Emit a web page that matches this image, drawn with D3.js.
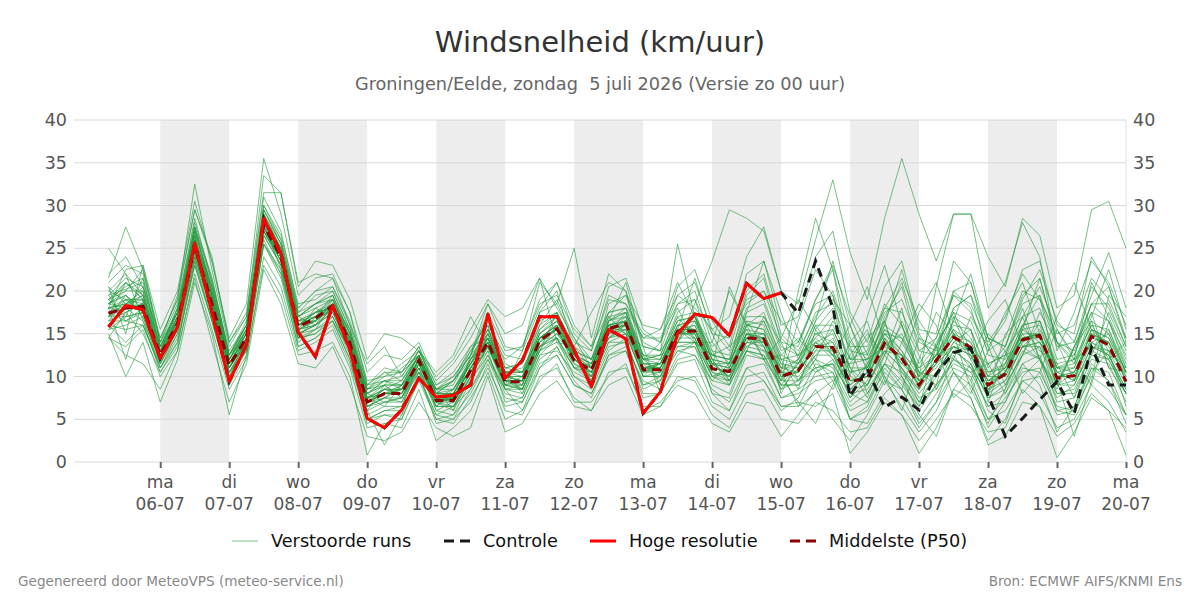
<!DOCTYPE html>
<html><head><meta charset="utf-8">
<script src="https://cdn.jsdelivr.net/npm/d3@7"></script>
<style>body{margin:0;background:#fff}svg{display:block;font-family:"DejaVu Sans",sans-serif}</style>
</head><body><svg id="c" width="1200" height="600"></svg>
<script>
// ---- data ----
const startTime = "2026-07-05T06:00:00Z"; // first forecast step, 6-hourly
const stepHours = 6;
const dayNames = ["ma","di","wo","do","vr","za","zo","ma","di","wo","do","vr","za","zo","ma"];
const dayDates = ["06-07","07-07","08-07","09-07","10-07","11-07","12-07","13-07","14-07","15-07","16-07","17-07","18-07","19-07","20-07"];
const shadedDays = ["06-07","08-07","10-07","12-07","14-07","16-07","18-07"];
const yTicks = [0,5,10,15,20,25,30,35,40];

const hres = [15.8,18.3,17.8,12.1,15.8,25.6,17.5,9.4,13.7,28.5,24.4,15.2,12.3,18.3,13.1,5.1,4.0,6.1,9.8,7.6,7.8,9.0,17.3,9.8,11.9,17.0,17.0,13.1,8.8,15.5,14.4,5.7,8.2,15.0,17.3,16.9,14.8,20.9,19.1,19.8];
const controle = [15.8,18.3,17.8,12.1,15.8,25.6,17.5,9.4,13.7,28.5,24.4,15.2,12.3,18.3,13.1,5.1,4.0,6.1,9.8,7.6,7.8,9.0,17.3,9.8,11.9,17.0,17.0,13.1,8.8,15.5,14.4,5.7,8.2,15.0,17.3,16.9,14.8,20.9,19.1,19.8,
 17.4,23.5,18.1,7.7,10.9,6.4,7.6,6.1,10.3,12.8,13.3,7.8,3.0,5.1,7.3,9.4,5.7,13.4,9.0,9.0];
const p50 = [17.4,18.0,18.2,12.5,16.2,25.2,18.5,11.3,14.5,27.7,
 24.0,15.8,16.8,18.3,13.9,7.0,8.0,8.0,11.9,7.2,
 7.2,10.7,14.0,9.4,9.4,14.2,15.6,11.9,10.7,15.6,
 16.2,10.8,10.8,15.3,15.3,10.9,10.6,14.5,14.4,10.0,
 10.7,13.5,13.4,9.4,9.8,13.9,12.1,9.0,11.9,14.6,
 13.4,9.0,10.3,14.3,14.8,9.8,10.1,14.7,13.7,9.4];

const members = [
[19.5,20.2,21.0,13.5,17.0,27.5,20.0,12.5,15.0,29.5,25.5,17.0,18.5,19.5,15.0,8.5,9.0,7.5,12.0,6.5,8.0,11.5,15.5,10.5,8.0,13.0,17.5,13.0,9.5,16.5,18.0,12.5,9.0,14.0,17.5,12.0,9.0,16.0,17.5,12.0,8.5,15.5,18.0,11.0,7.5,12.5,16.0,10.5,9.0,17.0,15.5,7.0,12.5,18.0,12.0,8.5,13.5,17.5,11.0,8.0],
[15.5,16.0,17.0,11.0,14.5,23.5,17.0,10.0,13.5,26.0,22.0,14.5,15.0,17.0,12.5,5.5,6.5,9.0,10.5,8.5,6.0,12.5,18.5,15.0,16.0,21.5,14.0,13.5,17.5,21.0,20.0,14.0,13.0,25.5,17.0,11.0,20.5,16.0,15.5,8.0,12.0,10.5,12.0,7.5,11.5,16.5,10.0,6.5,13.5,12.0,10.5,11.5,8.0,12.5,16.5,11.5,7.5,13.0,15.5,11.0],
[22.0,24.0,20.5,14.5,19.0,32.5,22.5,13.5,17.0,31.0,27.0,18.0,20.0,21.5,16.0,9.0,11.0,10.5,13.5,8.0,9.5,12.5,17.0,11.5,10.5,16.0,19.0,14.5,11.0,18.5,19.5,13.5,13.0,18.5,20.0,14.0,11.5,19.5,21.5,14.0,13.5,19.0,22.5,14.5,11.0,17.0,20.5,13.0,12.5,20.0,18.0,11.0,13.5,19.5,21.5,14.0,12.0,21.0,17.0,12.0],
[14.5,13.5,15.5,10.0,13.0,22.0,15.5,8.5,12.0,24.0,20.5,13.0,14.0,15.5,11.0,4.0,4.5,5.0,9.5,5.0,4.5,7.5,11.0,6.5,7.0,11.5,12.5,9.0,8.0,12.0,13.0,7.5,8.0,11.5,12.0,7.0,6.0,10.0,10.5,6.5,6.5,8.0,9.5,5.0,6.0,10.0,7.5,4.0,7.0,10.5,9.0,5.0,6.0,9.5,10.0,5.5,6.0,10.0,8.5,5.5],
[18.5,21.0,19.0,12.0,16.5,26.0,19.5,11.0,15.5,28.0,25.0,16.0,17.5,18.0,14.5,7.5,8.5,9.5,12.5,7.0,7.5,11.0,14.0,9.0,9.5,14.5,16.0,11.0,10.5,15.0,17.0,10.5,11.5,15.5,14.5,10.0,11.0,15.0,13.5,9.5,11.5,14.5,12.5,8.5,10.5,15.5,13.0,8.5,12.0,15.5,12.5,9.5,11.0,15.5,14.0,10.5,9.5,15.5,14.5,10.0],
[16.5,17.5,18.5,13.0,17.5,24.5,18.0,12.0,14.0,27.0,23.5,15.5,16.5,18.5,14.0,6.5,7.5,7.0,11.5,7.5,7.0,10.0,13.5,9.5,8.5,13.5,15.0,12.5,10.0,16.0,16.5,11.0,10.0,15.0,16.0,11.5,10.0,13.5,14.5,10.5,10.0,12.5,14.5,10.0,9.0,13.0,12.5,9.5,11.0,14.0,13.0,8.5,10.5,14.0,15.0,9.0,10.5,14.0,13.0,9.0],
[20.5,15.0,23.0,15.5,20.0,30.5,23.5,14.5,18.5,35.5,29.0,19.5,21.5,22.0,17.5,10.5,12.5,12.0,14.0,9.5,11.5,14.5,18.5,13.5,13.0,18.0,21.0,16.0,13.5,20.5,21.5,15.5,14.0,20.5,22.5,16.5,13.5,22.0,23.5,16.0,17.0,24.0,27.0,17.5,14.0,20.5,23.5,15.5,15.0,23.5,21.0,13.5,16.5,22.5,23.5,16.0,15.0,24.0,20.5,14.5],
[17.0,19.5,17.5,11.5,15.5,25.5,18.5,10.5,13.0,27.5,24.0,15.0,16.0,17.5,13.0,5.0,6.0,6.5,11.0,6.0,5.5,9.5,13.0,7.0,7.5,12.5,14.5,10.0,8.5,13.0,14.5,8.5,9.5,13.5,13.5,8.0,7.5,12.5,12.0,7.5,8.5,10.0,10.5,6.5,8.0,11.5,9.5,6.0,9.0,12.0,11.0,6.5,8.0,11.5,12.5,7.0,7.5,12.0,11.5,7.0],
[18.0,18.5,20.0,12.5,16.0,25.0,18.0,11.5,14.5,27.0,24.5,16.5,17.0,19.0,14.5,8.0,9.5,8.5,12.0,7.5,8.5,12.0,14.5,10.0,10.0,15.0,16.5,12.5,11.5,16.5,17.0,11.5,11.5,16.0,16.5,11.5,11.5,16.5,16.0,11.0,12.0,15.0,14.0,10.5,11.0,15.0,14.5,10.0,12.5,16.5,14.5,10.0,11.5,16.0,16.5,11.0,11.0,16.5,15.0,10.5],
[25.0,22.0,16.5,10.5,14.0,23.0,16.5,9.5,13.5,25.5,22.5,14.0,15.5,16.5,12.0,4.5,5.5,5.5,10.0,5.5,6.5,8.5,12.0,8.5,6.0,11.0,13.5,9.5,7.5,12.5,13.5,9.5,8.5,12.5,14.0,9.0,8.0,13.0,12.5,8.5,9.5,11.0,11.5,8.0,7.0,11.5,10.5,7.5,8.5,13.0,11.5,7.5,9.0,12.5,13.5,8.0,8.5,12.5,12.0,8.0],
[19.0,17.0,21.5,13.0,18.0,28.5,21.0,13.0,16.0,30.0,26.5,18.5,19.0,20.5,16.5,9.5,10.0,11.5,13.0,9.0,10.5,13.5,16.0,12.5,12.0,17.5,18.5,14.0,13.0,19.0,18.5,14.5,15.5,19.5,18.0,15.5,17.0,24.0,27.5,20.0,18.5,26.0,33.0,24.5,19.0,28.5,35.5,29.0,23.5,29.0,29.0,24.0,20.5,28.5,26.5,18.0,19.5,29.5,30.5,25.0],
[16.0,14.0,16.0,11.0,15.0,24.0,17.5,10.5,13.0,26.5,23.0,14.5,15.5,17.0,13.0,6.0,2.0,5.5,10.5,4.5,5.0,7.0,11.5,6.0,5.5,10.0,11.0,7.5,6.0,10.5,11.0,6.5,6.5,10.0,9.5,5.5,4.0,8.0,8.5,5.0,4.5,7.0,6.0,3.5,4.0,7.5,5.5,2.5,5.0,8.0,6.5,3.5,4.0,8.5,6.5,3.0,4.5,8.0,6.0,4.0],
[21.0,23.0,22.0,14.0,18.5,28.0,21.5,12.5,16.5,30.0,26.0,17.5,19.5,20.0,15.5,9.0,10.5,9.5,12.5,8.5,9.0,13.0,16.5,11.0,11.5,16.5,17.5,13.5,12.0,17.5,18.0,12.5,12.5,17.5,19.0,13.0,12.5,18.0,19.0,13.5,12.5,14.5,17.0,12.0,13.0,18.5,16.0,11.5,14.5,19.5,17.5,13.0,14.5,20.0,19.0,13.5,14.0,20.5,18.0,13.5],
[17.5,16.5,18.0,12.0,16.0,25.5,19.0,11.0,14.0,28.0,24.5,16.0,17.5,18.0,14.0,7.0,8.5,8.0,11.0,7.0,7.5,11.0,13.5,9.5,9.0,14.5,15.5,12.0,11.0,15.5,15.5,11.0,11.0,14.0,18.5,23.5,29.5,28.5,27.0,20.0,15.5,11.0,8.5,12.5,15.5,9.5,8.5,14.5,13.5,7.5,9.5,15.0,13.0,8.0,10.5,15.5,12.0,9.0,16.5,12.5],
[18.5,19.5,17.0,12.0,17.0,26.5,19.5,12.0,15.0,28.5,24.5,16.5,16.5,18.5,14.5,7.5,8.0,8.5,12.0,8.0,8.0,11.5,14.5,10.0,9.5,14.0,16.5,12.0,11.0,15.5,16.5,10.5,11.5,15.5,15.5,11.5,10.0,15.0,14.0,11.0,10.5,14.0,13.0,9.0,10.5,14.5,11.5,9.5,11.5,14.5,13.0,9.5,10.0,14.5,14.5,10.0,10.5,15.0,14.0,9.5],
[15.0,10.0,14.0,7.0,12.0,21.0,15.0,5.5,12.5,23.0,19.5,12.5,13.0,14.0,10.0,0.8,4.5,4.0,8.5,2.5,4.0,6.0,10.5,5.0,6.0,9.5,11.5,7.0,7.0,10.0,11.5,6.0,7.0,9.5,10.0,6.5,5.0,9.0,9.5,6.5,7.0,6.5,8.0,1.0,3.5,7.0,5.5,1.0,4.0,8.5,7.5,2.0,3.0,7.0,6.5,0.5,3.5,7.5,6.0,0.8],
[19.0,20.5,21.5,13.5,17.5,27.0,20.5,12.0,16.0,29.0,25.5,17.5,18.5,20.0,15.5,8.5,10.0,10.5,13.5,9.0,10.0,13.0,15.5,12.0,13.5,19.0,21.0,15.0,13.0,19.5,18.5,15.0,14.0,19.5,21.0,15.5,13.0,20.0,22.0,15.0,13.0,17.0,20.0,14.0,12.0,16.5,21.0,14.5,12.0,18.0,19.5,12.5,12.0,17.0,20.5,15.5,12.5,18.5,20.5,14.0],
[14.5,17.5,15.0,10.5,13.5,23.5,16.5,9.0,12.5,25.5,21.5,13.5,14.5,16.0,11.5,5.0,6.0,6.0,10.0,5.5,5.0,8.5,12.5,8.0,7.5,12.0,13.5,10.0,9.0,13.5,14.0,9.0,9.5,13.0,13.5,9.5,9.0,13.0,12.0,9.0,9.0,12.0,11.0,7.0,9.0,12.5,10.0,7.0,10.0,13.0,11.5,7.5,8.5,13.0,12.0,8.0,8.0,13.0,12.0,8.0],
[17.0,18.0,19.5,12.5,17.0,26.0,19.0,11.5,15.0,28.5,24.0,15.5,16.0,19.0,14.5,6.5,7.5,9.0,12.5,8.0,7.0,10.5,14.5,10.5,10.5,13.5,15.0,12.5,10.5,14.5,16.0,12.0,12.5,13.5,14.0,12.5,13.5,15.5,12.0,12.5,14.5,12.0,9.5,11.5,14.5,16.5,10.5,8.5,14.0,17.0,12.0,8.0,15.0,17.0,12.0,9.0,13.5,16.5,11.0,10.5],
[18.0,18.5,18.0,12.5,16.5,25.0,18.0,11.0,14.5,27.5,23.5,16.0,17.0,18.0,14.0,7.0,8.0,8.0,12.0,7.5,7.5,11.0,14.0,9.5,9.5,14.0,15.5,12.0,10.5,15.5,16.0,11.0,11.0,15.0,15.0,11.0,10.5,14.5,14.5,10.0,10.5,13.5,13.5,9.5,10.0,14.0,12.0,9.0,12.0,14.5,13.5,9.0,10.5,14.5,15.0,10.0,10.0,14.5,14.0,9.5],
[16.5,19.0,17.5,11.5,15.5,24.5,17.5,10.5,14.0,27.0,23.0,15.0,16.0,17.5,13.5,6.0,7.0,7.5,11.0,6.5,6.5,10.0,13.5,9.0,8.5,13.5,14.5,11.5,10.0,14.5,15.5,10.0,10.5,14.5,14.5,10.5,9.5,14.0,13.5,9.5,16.5,22.5,19.5,10.0,17.0,23.0,16.0,10.0,20.5,29.0,29.0,18.0,21.0,28.0,24.0,13.0,17.5,23.5,21.0,16.0],
[19.5,21.5,20.5,13.5,17.5,27.0,20.0,12.0,15.5,29.0,25.0,17.0,18.0,19.0,15.0,8.0,9.0,9.0,12.5,8.0,8.5,11.5,15.0,10.5,10.0,15.0,16.5,12.5,11.5,16.0,17.0,12.0,11.5,16.0,16.5,12.0,11.5,16.0,15.5,11.5,11.0,14.0,15.0,10.5,11.0,15.0,13.0,10.0,12.5,15.5,14.0,10.5,11.0,15.5,16.0,10.5,11.0,15.5,14.5,10.5],
[16.0,15.5,16.0,11.0,14.0,23.0,16.5,9.5,13.0,25.5,22.0,13.5,14.5,16.5,12.0,5.0,5.5,5.0,10.0,5.0,5.5,8.0,12.0,7.5,7.0,11.0,12.5,9.0,8.0,12.5,13.0,8.0,8.0,12.0,12.5,8.5,7.0,11.0,11.5,7.5,8.0,9.5,10.0,6.0,7.0,10.5,8.5,5.0,8.0,11.0,10.0,5.0,7.5,10.5,11.0,6.0,6.5,11.0,10.5,5.5],
[20.0,22.0,19.5,13.5,18.0,27.5,21.0,12.5,16.0,29.5,25.5,17.0,18.5,19.5,15.0,8.0,9.5,9.5,13.0,8.5,9.5,12.5,15.0,11.0,11.5,16.0,17.5,13.5,11.0,16.5,17.5,12.0,12.0,16.5,17.0,12.5,12.0,17.0,17.0,12.5,11.5,16.0,16.0,12.0,12.0,16.0,14.5,11.0,13.5,17.5,16.5,11.5,12.5,17.0,18.0,12.0,12.5,17.5,16.5,11.5],
[17.5,18.0,18.5,12.0,16.0,25.0,18.5,11.0,14.0,27.0,24.0,15.5,16.5,18.0,13.5,7.0,8.0,8.0,11.5,7.0,7.0,10.5,13.5,9.0,9.0,14.0,15.5,11.5,10.5,15.0,15.5,10.5,10.5,15.0,15.0,10.5,10.0,14.0,14.0,10.0,7.0,4.5,9.0,14.0,16.5,10.0,6.0,12.0,17.5,15.0,8.5,4.5,8.5,16.0,19.5,9.5,3.0,9.5,19.5,17.0],
[18.0,19.0,19.0,13.0,16.5,26.5,19.5,12.0,15.0,28.5,24.5,16.0,17.0,18.5,14.5,7.5,8.5,8.5,12.0,7.5,7.5,11.0,14.0,9.5,9.5,14.5,16.0,12.0,11.0,16.0,16.5,11.0,11.0,15.5,15.5,11.0,10.5,15.0,15.0,10.5,10.5,13.5,14.0,9.5,10.0,14.5,12.5,9.0,12.0,15.0,14.0,9.5,10.5,15.0,15.0,10.0,10.5,15.0,14.0,9.5],
[18.5,20.0,20.0,13.0,17.0,26.0,19.5,12.0,15.5,28.5,25.0,16.5,17.5,19.0,14.5,8.0,9.0,9.0,12.5,8.0,8.0,12.0,15.0,10.5,10.5,15.0,17.0,13.0,12.0,17.0,17.5,12.0,12.5,17.0,17.5,12.5,12.0,17.5,18.5,13.0,14.0,18.5,19.5,13.5,13.5,18.0,17.5,13.0,14.5,20.0,21.0,14.5,13.5,19.0,22.5,16.5,14.0,19.5,24.5,18.0],
[17.0,17.0,17.5,12.0,15.5,24.5,18.0,10.5,14.0,27.0,23.5,15.5,16.0,17.5,13.5,6.5,7.5,7.5,11.5,7.0,6.5,10.0,13.5,9.0,8.5,13.5,14.5,11.0,10.0,14.5,15.0,10.0,10.0,14.0,14.0,10.0,9.0,13.0,12.5,9.0,9.0,11.0,11.5,8.0,8.5,11.5,9.0,6.5,9.0,11.5,10.5,6.5,7.0,11.0,10.5,6.5,6.0,11.0,9.5,5.5],
[19.0,21.0,19.5,12.5,17.0,26.5,19.0,11.5,15.0,28.0,24.5,16.0,17.5,18.5,14.0,7.5,8.0,8.5,12.0,7.5,8.0,11.5,14.5,10.0,9.5,14.5,16.0,12.0,11.0,15.5,16.5,11.5,11.5,15.5,16.0,11.5,11.0,15.5,15.0,11.0,11.0,13.0,13.0,8.5,10.5,13.0,11.0,8.5,11.5,13.5,12.5,8.5,9.5,13.5,13.5,9.0,9.5,14.0,12.5,8.5],
[18.0,12.0,19.0,12.5,16.5,25.5,18.5,11.0,14.5,27.5,24.0,16.0,16.5,18.0,14.0,7.0,8.0,8.0,12.0,7.0,7.5,11.0,14.0,9.5,9.5,14.5,15.5,12.0,10.5,15.0,16.0,10.5,11.0,15.0,15.0,11.0,10.5,15.0,14.5,10.5,20.0,28.5,22.5,12.0,15.0,12.5,18.0,9.5,13.5,17.5,13.0,10.0,13.0,16.0,13.0,11.5,12.0,16.0,13.0,11.0],
[21.5,27.5,22.5,14.0,19.5,29.5,24.0,14.0,17.5,31.5,31.5,20.5,23.5,23.0,19.0,12.0,15.0,14.5,13.0,10.0,12.0,15.5,19.0,17.0,18.0,21.5,18.0,14.5,12.0,17.5,19.5,16.0,15.5,21.0,17.0,13.5,15.0,18.5,20.0,16.5,14.0,19.0,23.0,17.0,12.5,18.0,21.5,16.5,13.5,19.5,18.5,14.0,17.0,22.0,19.0,15.0,16.0,21.5,19.0,14.5],
[14.5,12.5,11.5,8.5,13.0,21.5,14.0,7.0,11.5,22.5,18.5,11.5,11.0,13.5,9.0,3.0,2.5,3.5,7.0,4.0,3.0,4.0,10.0,3.5,4.5,8.0,9.5,6.5,6.0,9.0,10.0,5.5,6.5,9.0,8.0,4.5,3.5,7.0,6.5,3.0,5.5,8.5,5.0,2.5,5.5,9.5,6.5,3.5,6.0,10.5,7.5,2.5,5.0,9.5,8.0,4.0,5.0,9.0,7.0,3.5],
[18.0,22.5,23.0,14.0,17.5,27.5,21.5,12.5,15.5,29.5,26.0,18.0,20.0,20.5,16.0,11.5,13.5,10.0,13.0,10.5,12.5,17.0,13.5,9.0,13.0,21.0,18.5,25.0,14.5,22.0,20.0,12.0,14.0,18.0,14.0,14.0,20.0,16.0,12.0,14.5,19.0,15.5,12.5,16.0,20.5,14.0,11.5,17.5,21.0,15.0,12.0,16.5,19.0,13.5,12.0,17.0,21.0,15.5,12.0,14.0],
[16.0,18.0,16.5,12.0,15.5,24.0,18.0,11.5,15.0,26.5,24.5,17.0,16.0,18.0,13.0,6.0,9.0,11.0,12.5,6.0,7.0,12.0,16.0,8.5,8.0,12.5,13.0,10.5,9.5,14.0,14.0,9.0,10.0,13.0,12.5,9.5,11.5,16.5,13.5,8.5,11.0,16.0,13.0,7.5,9.5,14.5,11.0,7.0,10.5,13.5,11.0,8.0,11.5,15.0,12.0,7.5,9.0,13.5,12.5,8.0],
[20.0,19.0,18.5,12.5,16.5,26.0,20.5,12.5,16.0,29.0,24.0,15.0,15.5,18.5,15.5,8.0,7.0,7.5,11.0,8.5,9.5,13.5,14.5,9.0,10.0,15.5,17.5,13.0,9.5,15.0,17.5,11.5,9.5,14.5,17.0,12.0,9.5,14.0,16.5,11.5,9.5,13.0,15.5,11.0,9.0,13.5,15.0,10.5,10.0,14.0,15.5,10.0,10.0,13.5,15.5,11.0,10.5,14.0,15.0,10.5],
[17.0,21.0,19.0,12.0,16.0,27.5,19.5,11.0,14.0,28.0,22.5,14.5,17.0,19.5,14.0,7.5,9.0,7.5,10.5,6.5,8.5,11.5,13.5,8.5,9.0,17.5,20.0,13.0,9.0,16.5,21.0,13.5,8.0,15.5,21.5,15.0,11.0,17.5,23.5,17.5,12.0,16.5,23.5,16.0,10.5,16.0,22.5,15.0,11.5,16.5,22.0,14.5,10.5,15.5,21.5,14.0,11.5,17.0,22.5,15.5],
[19.5,16.5,17.5,13.0,18.0,25.5,17.0,10.0,14.5,27.5,23.5,16.5,17.5,18.0,13.5,7.0,7.5,8.5,12.5,8.0,8.0,10.5,13.0,10.5,10.5,13.0,14.0,11.0,11.5,17.0,15.0,10.0,12.0,17.0,14.5,8.0,6.0,11.0,9.5,6.0,7.5,11.5,10.5,5.0,6.5,11.0,8.5,4.5,7.0,12.5,9.5,4.0,7.0,11.5,9.0,3.5,6.5,11.5,9.5,4.5],
[18.5,18.0,20.5,13.0,16.5,26.0,20.0,12.0,15.5,28.5,25.0,16.0,16.5,18.0,14.5,7.0,8.0,9.0,11.5,7.5,7.0,10.5,14.5,10.5,9.0,13.5,16.0,12.5,10.0,14.5,16.5,12.0,10.5,14.0,16.5,13.0,9.5,13.0,17.0,14.0,9.5,12.0,16.5,13.5,8.0,11.5,16.5,12.5,8.5,12.0,17.0,13.5,9.0,12.5,17.5,14.0,9.5,12.5,17.5,13.0],
[17.5,19.0,17.5,12.5,16.0,25.0,17.5,10.0,13.5,27.0,24.5,15.5,18.0,17.0,13.0,7.5,6.5,6.5,11.5,7.0,6.0,10.0,15.0,10.0,8.5,13.0,16.0,12.5,11.0,16.0,16.0,11.0,11.5,16.0,15.5,10.0,10.5,14.5,14.0,9.0,11.5,14.0,12.0,9.0,11.5,15.0,12.5,9.5,11.5,15.0,13.0,9.5,11.0,14.5,15.0,10.5,9.5,15.5,13.5,10.0],
[19.0,20.0,22.5,14.5,19.0,29.5,23.5,14.0,17.0,33.5,31.5,21.0,22.0,21.5,17.5,9.0,9.5,10.0,13.0,8.5,10.0,12.5,17.5,13.0,13.5,18.5,19.5,15.5,13.5,17.5,18.0,14.5,14.5,18.5,19.0,15.0,14.5,19.0,20.0,14.5,12.5,17.5,18.5,13.0,12.5,17.5,19.0,14.0,13.0,18.0,19.5,14.5,13.5,18.5,19.5,14.0,13.0,18.5,18.5,13.5],
[16.5,16.5,16.0,11.5,15.0,24.0,17.5,10.5,13.5,26.5,23.0,14.5,15.0,16.5,13.0,6.5,7.0,7.0,10.5,6.5,6.5,9.5,12.5,8.5,8.5,13.0,14.5,11.0,9.5,14.0,15.0,10.0,10.0,14.0,14.0,10.0,9.5,13.5,13.0,9.5,9.5,12.5,12.5,8.5,9.0,13.0,11.0,8.0,10.5,13.5,12.5,8.0,9.5,13.5,14.0,9.0,9.0,13.5,12.5,8.5],
[18.0,17.5,18.5,12.5,16.5,25.5,18.5,11.5,14.5,28.0,24.0,16.0,17.0,18.5,14.0,7.0,8.0,8.0,12.0,7.0,7.5,11.0,14.0,9.5,9.5,14.0,15.5,12.0,10.5,15.5,16.0,11.0,11.0,15.0,15.5,11.0,10.5,14.5,14.5,10.0,10.5,13.5,13.5,9.5,10.0,14.0,12.0,9.0,12.0,14.5,13.5,9.0,10.5,14.5,15.0,10.0,10.0,14.5,14.0,9.5],
[17.0,18.5,19.0,12.0,16.0,25.5,18.0,11.0,14.5,27.5,24.0,15.5,16.5,18.0,13.5,7.0,8.5,8.5,12.5,7.5,7.5,11.0,14.5,10.0,10.0,14.5,15.5,12.0,11.0,15.5,16.0,11.0,11.5,15.5,15.5,11.5,11.0,15.0,14.5,10.5,12.0,16.5,19.0,16.0,11.5,9.0,14.0,18.5,16.0,10.5,8.0,13.0,17.5,21.0,15.0,9.0,13.5,18.5,16.5,11.0],
[18.5,19.5,18.0,13.0,17.0,26.0,19.0,12.0,15.0,28.0,24.0,16.0,17.0,18.5,14.5,7.5,8.5,8.0,12.0,7.5,8.0,11.5,14.0,10.0,9.5,14.5,16.0,12.5,11.0,16.0,16.5,11.5,11.0,15.5,15.5,11.0,10.5,14.5,15.0,10.5,6.5,10.5,11.5,5.0,4.5,8.0,10.0,5.5,3.0,8.5,11.5,6.0,4.5,10.0,12.0,6.0,5.5,10.5,13.0,6.5],
[15.5,17.0,17.5,12.5,16.0,25.0,18.0,11.0,14.0,27.5,23.5,15.0,16.0,18.0,14.0,8.5,10.5,10.5,12.5,8.0,9.5,12.0,14.0,10.5,11.0,14.5,14.5,13.0,12.0,16.0,15.0,13.5,13.0,15.5,14.0,12.5,12.0,14.5,13.0,12.0,12.5,14.0,12.5,11.5,12.0,13.5,12.5,11.0,12.5,13.5,13.0,11.5,12.5,13.5,14.0,11.0,12.0,13.5,13.0,10.5],
[20.5,18.5,19.5,13.5,17.5,27.0,20.5,12.5,16.0,29.0,25.0,17.0,18.5,19.0,15.0,8.5,9.5,9.0,12.5,8.5,8.5,12.0,15.5,11.0,10.5,15.5,17.0,12.5,11.5,16.5,17.5,12.5,12.0,16.5,17.0,12.0,11.5,16.0,16.5,12.0,11.5,15.0,15.5,11.0,11.0,15.5,14.0,10.5,12.5,16.0,15.5,10.5,11.5,16.0,16.5,11.0,11.5,16.0,15.5,10.5]
];

(function () {
// ---- layout ----
const svg = d3.select("#c");
const pLeft = 74, pRight = 1126, pTop = 120, pBottom = 462;
const parse = d3.utcParse("%Y-%m-%dT%H:%M:%SZ");
const t0 = parse(startTime);
const timeAt = i => new Date(t0.getTime() + i * stepHours * 3600e3);
const x = d3.scaleUtc().domain([parse("2026-07-04T18:00:00Z"), parse("2026-07-20T00:00:00Z")]).range([pLeft, pRight]);
const y = d3.scaleLinear().domain([0, 40]).range([pBottom, pTop]);
const dayDate = s => parse("2026-" + s.slice(3,5) + "-" + s.slice(0,2) + "T00:00:00Z");

// shaded bands
svg.append("g").selectAll("rect").data(shadedDays).join("rect")
  .attr("x", d => x(dayDate(d))).attr("y", pTop)
  .attr("width", d => x(d3.utcDay.offset(dayDate(d), 1)) - x(dayDate(d)))
  .attr("height", pBottom - pTop).attr("fill", "#ededed");

// gridlines
svg.append("g").selectAll("line").data(yTicks).join("line")
  .attr("x1", pLeft).attr("x2", pRight).attr("y1", d => y(d)).attr("y2", d => y(d))
  .attr("stroke", "#d8d8d8").attr("stroke-width", 1);
svg.append("line").attr("x1", pRight).attr("x2", pRight).attr("y1", pTop).attr("y2", pBottom)
  .attr("stroke", "#e0e0e0");

// y axes labels
const yl = d3.axisLeft(y).tickValues(yTicks).tickSize(0).tickPadding(7);
const ga = svg.append("g").attr("transform", `translate(${pLeft},0)`).call(yl);
const yr = d3.axisRight(y).tickValues(yTicks).tickSize(0).tickPadding(7);
const gb = svg.append("g").attr("transform", `translate(${pRight},0)`).call(yr);
[ga, gb].forEach(g => {
  g.select(".domain").remove();
  g.selectAll("text").attr("font-size", 17.5).attr("fill", "#555").attr("font-family", "DejaVu Sans");
});

// x axis
const xTickDates = dayDates.map(dayDate);
const xa = d3.axisBottom(x).tickValues(xTickDates).tickSize(6).tickFormat("");
const gx = svg.append("g").attr("transform", `translate(0,${pBottom})`).call(xa);
gx.select(".domain").remove();
gx.selectAll("line").attr("stroke", "#666").attr("stroke-width", 2);
const lab = svg.append("g").selectAll("g").data(xTickDates).join("g")
  .attr("transform", d => `translate(${x(d)},0)`);
lab.append("text").attr("y", 488).attr("text-anchor", "middle").attr("font-size", 17).attr("fill", "#555")
  .text((d, i) => dayNames[i]);
lab.append("text").attr("y", 510).attr("text-anchor", "middle").attr("font-size", 17).attr("fill", "#555")
  .text((d, i) => dayDates[i]);

// lines
const line = d3.line().x((d, i) => x(timeAt(i))).y(d => y(d));
const plot = svg.append("g");
plot.selectAll("path.m").data(members).join("path").attr("class", "m")
  .attr("d", line).attr("fill", "none").attr("stroke", "#259a3f").attr("stroke-opacity", 0.62).attr("stroke-width", 1);
plot.append("path").attr("d", line(p50)).attr("fill", "none").attr("stroke", "#8b0000")
  .attr("stroke-width", 3).attr("stroke-dasharray", "9,6");
plot.append("path").attr("d", line(controle)).attr("fill", "none").attr("stroke", "#1a1a1a")
  .attr("stroke-width", 3).attr("stroke-dasharray", "9,6");
plot.append("path").attr("d", line(hres)).attr("fill", "none").attr("stroke", "#ff0000")
  .attr("stroke-width", 3).attr("stroke-linejoin", "round");

// titles
svg.append("text").attr("x", 600).attr("y", 52).attr("text-anchor", "middle").attr("font-size", 29)
  .attr("fill", "#333").text("Windsnelheid (km/uur)");
svg.append("text").attr("x", 600).attr("y", 90).attr("text-anchor", "middle").attr("font-size", 17.7)
  .attr("fill", "#666").style("white-space", "pre").text("Groningen/Eelde, zondag  5 juli 2026 (Versie zo 00 uur)");

// legend
const legendItems = [
  {label: "Verstoorde runs", x: 232, color: "#7cc48c", w: 1, dash: null},
  {label: "Controle", x: 444, color: "#1a1a1a", w: 3, dash: "10,6"},
  {label: "Hoge resolutie", x: 590, color: "#ff0000", w: 3, dash: null},
  {label: "Middelste (P50)", x: 790, color: "#8b0000", w: 3, dash: "10,6"}
];
const lg = svg.append("g").selectAll("g").data(legendItems).join("g");
lg.append("line").attr("x1", d => d.x).attr("x2", d => d.x + 26).attr("y1", 541).attr("y2", 541)
  .attr("stroke", d => d.color).attr("stroke-width", d => d.w).attr("stroke-dasharray", d => d.dash);
lg.append("text").attr("x", d => d.x + 39).attr("y", 547).attr("font-size", 17.7).attr("fill", "#111")
  .text(d => d.label);

// footer
svg.append("text").attr("x", 18).attr("y", 586).attr("font-size", 13.6).attr("fill", "#888")
  .text("Gegenereerd door MeteoVPS (meteo-service.nl)");
svg.append("text").attr("x", 1182).attr("y", 586).attr("text-anchor", "end").attr("font-size", 13.6).attr("fill", "#888")
  .text("Bron: ECMWF AIFS/KNMI Ens");
})();
</script></body></html>
